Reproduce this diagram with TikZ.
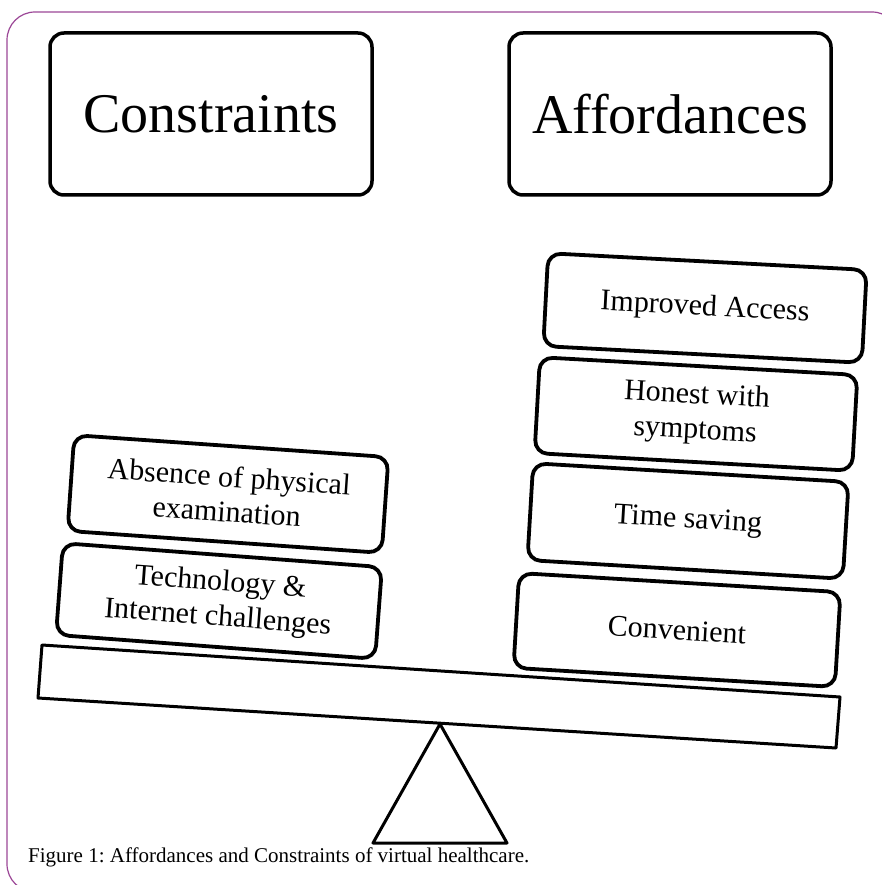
\documentclass[tikz,border=0pt]{standalone}
\usepackage{fontspec}
\setmainfont{Liberation Serif}
\usepackage{tikz}
\frenchspacing

\definecolor{framepurple}{RGB}{155,70,150}

\tikzstyle{bigbox} = [rectangle, rounded corners = 14pt, minimum width = 322pt,
	minimum height = 162pt, inner sep = 0pt, line width = 3.5pt,
	draw = black, fill = white, font = \fontsize{56}{60}\selectfont]
\tikzstyle{weightbox} = [rectangle, rounded corners = 13pt, minimum width = 318pt,
	minimum height = 95pt, inner sep = 0pt, line width = 3.8pt, align = center,
	draw = black, fill = white, font = \fontsize{30}{35}\selectfont]
\tikzstyle{plank} = [line width = 3pt, draw = black, line join = round]

\begin{document}
\begin{tikzpicture}[x = 1pt, y = -1pt]

\useasboundingbox (0,0) rectangle (882,885);

% frame
\begin{scope}
	\clip (0,0) rectangle (882,885);
	\draw [framepurple, line width = 1.2pt, rounded corners = 28pt]
		(7,12) rectangle (900,892);
\end{scope}

% headings
\node (cons) [bigbox] at (211,114) {Constraints};
\node (aff) [bigbox] at (670,114) {Affordances};

% seesaw
\draw [plank] (42,645) -- (840,697) -- (836,748) -- (38,698) -- cycle;
\draw [plank] (440,724) -- (507,843) -- (373,843) -- cycle;

% left side
\node (tech) [weightbox, rotate = -4.3, minimum width = 320pt, minimum height = 92pt]
	at (219,601) {Technology \&\\Internet challenges};
\node (abs) [weightbox, rotate = -4, minimum width = 315pt, minimum height = 96pt]
	at (228,494) {Absence of physical\\examination};

% right side
\node (conv) [weightbox, rotate = -3.4, minimum width = 322pt] at (677,630) {Convenient};
\node (time) [weightbox, rotate = -3.4, minimum width = 316pt, minimum height = 97pt]
	at (688,521) {Time saving};
\node (hon) [weightbox, rotate = -3.2, minimum height = 96pt]
	at (696,414) {Honest with\\symptoms};
\node (acc) [weightbox, rotate = -3, minimum width = 319pt, minimum height = 93pt]
	at (705,308) {Improved Access};

% caption
\node (cap) [anchor = base west, inner sep = 0pt, font = \fontsize{21}{25}\selectfont]
	at (28,862) {Figure 1: Affordances and Constraints of virtual healthcare.};

\end{tikzpicture}
\end{document}
